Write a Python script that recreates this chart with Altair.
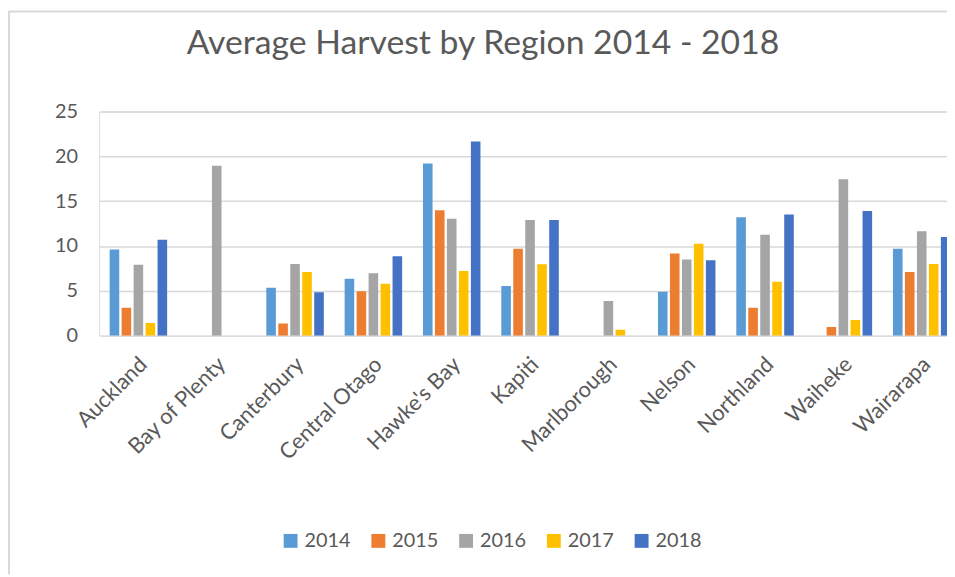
import altair as alt
import pandas as pd

regions = ["Auckland", "Bay of Plenty", "Canterbury", "Central Otago", "Hawke's Bay",
           "Kapiti", "Marlborough", "Nelson", "Northland", "Waiheke", "Wairarapa"]
years = ["2014", "2015", "2016", "2017", "2018"]
colors = ["#5B9BD5", "#ED7D31", "#A5A5A5", "#FFC000", "#4472C4"]
title_text = "Average Harvest by Region 2014 - 2018"

v2014 = [9.6, 0, 5.35, 6.35, 19.2, 5.55, 0, 4.9, 13.2, 0, 9.7]
v2015 = [3.1, 0, 1.35, 4.95, 14.0, 9.7, 0, 9.15, 3.1, 0.95, 7.1]
v2016 = [7.9, 18.95, 8.0, 6.95, 13.05, 12.9, 3.85, 8.5, 11.25, 17.45, 11.65]
v2017 = [1.4, 0, 7.1, 5.8, 7.2, 7.95, 0.65, 10.25, 6.0, 1.75, 8.0]
v2018 = [10.7, 0, 4.85, 8.85, 21.65, 12.9, 0, 8.4, 13.5, 13.9, 11.0]

series = [v2014, v2015, v2016, v2017, v2018]
rows = []
for yr, vals in zip(years, series):
    for reg, v in zip(regions, vals):
        if v > 0:
            rows.append({"Region": reg, "Year": yr, "Value": v})
df = pd.DataFrame(rows)

FONT = "Lato"
TXT = "#595959"
W, H = 855, 226

bars = alt.Chart(df).mark_bar(clip=True).encode(
    x=alt.X("Region:N", sort=regions,
            scale=alt.Scale(domain=regions, range=[0, 869], paddingInner=0.266, paddingOuter=0.133),
            axis=alt.Axis(title=None, labelAngle=-45, labelFontSize=22, labelColor=TXT,
                          labelFont=FONT, domain=False, ticks=False, labelPadding=18,
                          labelOffset=-2, labelOverlap=False)),
    xOffset=alt.XOffset("Year:N", sort=years, scale=alt.Scale(domain=years, paddingInner=0.2)),
    y=alt.Y("Value:Q", scale=alt.Scale(domain=[0, 25], nice=False),
            axis=alt.Axis(title=None, values=[0, 5, 10, 15, 20, 25], labelFontSize=20,
                          labelColor=TXT, labelFont=FONT, domain=False, ticks=False,
                          labelPadding=22, gridColor="#D9D9D9", gridWidth=1.5)),
    color=alt.Color("Year:N", sort=years,
                    scale=alt.Scale(domain=years, range=colors),
                    legend=alt.Legend(title=None, orient="none", direction="horizontal",
                                      legendX=183, legendY=423, symbolType="square",
                                      symbolSize=196, symbolStrokeWidth=0, labelFontSize=20,
                                      labelColor=TXT, labelFont=FONT, labelOffset=4,
                                      columnPadding=17.5)),
)

title = alt.Chart(alt.Data(values=[{"t": title_text}])).mark_text(
    font=FONT, fontSize=34, color=TXT, align="center", baseline="alphabetic"
).encode(text="t:N", x=alt.value(387), y=alt.value(-58))

border_left = alt.Chart(alt.Data(values=[{}])).mark_rule(color="#D9D9D9", strokeWidth=2).encode(
    x=alt.value(-91), y=alt.value(-101), y2=alt.value(467))
border_top = alt.Chart(alt.Data(values=[{}])).mark_rule(color="#D9D9D9", strokeWidth=2).encode(
    x=alt.value(-92), x2=alt.value(W), y=alt.value(-101))

chart = alt.layer(bars, title, border_left, border_top).properties(
    width=W, height=H,
    autosize=alt.AutoSizeParams(type="none"),
    padding={"left": 92, "top": 102, "right": 0, "bottom": 241},
).configure_view(stroke=None).configure(background="white")

chart.save("out.html", embed_options={"renderer": "svg", "actions": False})
